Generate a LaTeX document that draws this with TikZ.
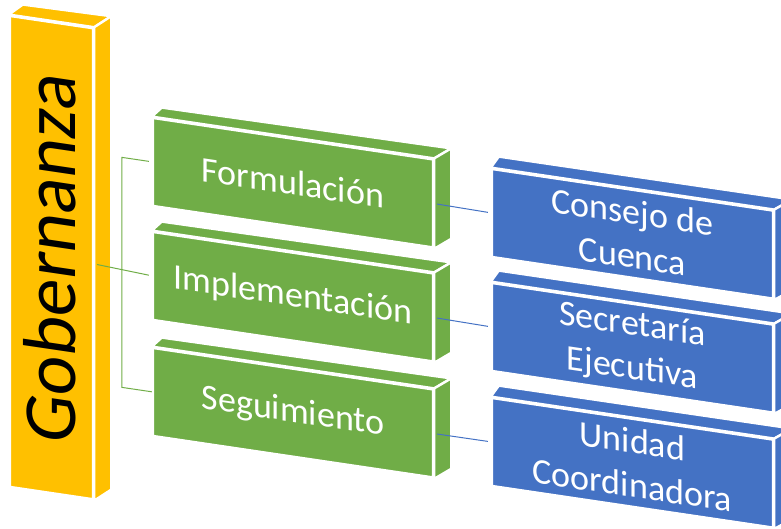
\documentclass[tikz,border=0pt]{standalone}
\usepackage{fontspec}
\setmainfont{Carlito}
\usetikzlibrary{calc}
\definecolor{gold}{HTML}{FFC000}
\definecolor{grn}{HTML}{70AD47}
\definecolor{blu}{HTML}{4472C4}
\begin{document}
\begin{tikzpicture}[x=1pt,y=-1pt,
  face/.style={yslant=-0.148, draw=white, line width=2.4pt, line join=round, inner sep=0pt, align=center},
  ybox/.style={face, fill=gold, minimum width=83pt, minimum height=471pt, text=black, font=\fontsize{75}{80}\selectfont},
  gbox/.style={face, fill=grn, minimum width=280pt, minimum height=88pt, text=white, font=\fontsize{36}{44}\selectfont},
  bbox/.style={face, fill=blu, minimum width=281pt, minimum height=88pt, text=white, font=\fontsize{36}{44}\selectfont},
  edge3d/.style={draw=white, line width=2.4pt, line join=round},
  gline/.style={draw=grn, line width=1pt},
  bline/.style={draw=blu, line width=1pt}
]
\useasboundingbox (0,0) rectangle (781,529);
\clip (0,0) rectangle (781,529);

% yellow bar
\node[ybox] (gob) at (51.5,257.6) {\rotatebox{90}{\raisebox{5pt}{Gobernanza}}};
\path[edge3d, fill=gold] (gob.north west) -- ++(14,-10) -- ($(gob.north east)+(17,-11)$) -- (gob.north east) -- cycle;
\path[edge3d, fill=gold] (gob.north east) -- ++(17,-11) -- ($(gob.south east)+(17,-11)$) -- (gob.south east) -- cycle;

% green boxes
\foreach \n/\y/\t in {g1/182.7/Formulación, g2/296.7/Implementación, g3/412.7/Seguimiento}{
  \node[gbox] (\n) at (293,\y) {\t};
  \path[edge3d, fill=grn] (\n.north west) -- ++(10,-9) -- ($(\n.north east)+(17,-10)$) -- (\n.north east) -- cycle;
  \path[edge3d, fill=grn] (\n.north east) -- ++(17,-10) -- ($(\n.south east)+(17,-10)$) -- (\n.south east) -- cycle;
}

% blue boxes
\foreach \n/\y/\t in {b1/233.8/{Consejo de\\Cuenca}, b2/347.8/{Secretaría\\Ejecutiva}, b3/462.8/{Unidad\\Coordinadora}}{
  \node[bbox] (\n) at (632.5,\y) {\t};
  \path[edge3d, fill=blu] (\n.north west) -- ++(8,-11) -- ($(\n.north east)+(18,-10)$) -- (\n.north east) -- cycle;
  \path[edge3d, fill=blu] (\n.north east) -- ++(18,-10) -- ($(\n.south east)+(18,-10)$) -- (\n.south east) -- cycle;
}

% connectors
\draw[gline, shorten <=3pt, shorten >=3pt] (gob.east) -- (g2.west);
\coordinate (ktop) at ($(g1.west)+(-30,-4.44)$);
\coordinate (kbot) at ($(g3.west)+(-30,-4.44)$);
\draw[gline, shorten <=3pt] (g1.west) -- (ktop) -- (kbot) -- (g3.west);
\draw[bline, shorten <=3pt, shorten >=3pt] (g1.east) -- (b1.west);
\draw[bline, shorten <=3pt, shorten >=3pt] (g2.east) -- (b2.west);
\draw[bline, shorten <=3pt, shorten >=3pt] (g3.east) -- (b3.west);
\end{tikzpicture}
\end{document}
